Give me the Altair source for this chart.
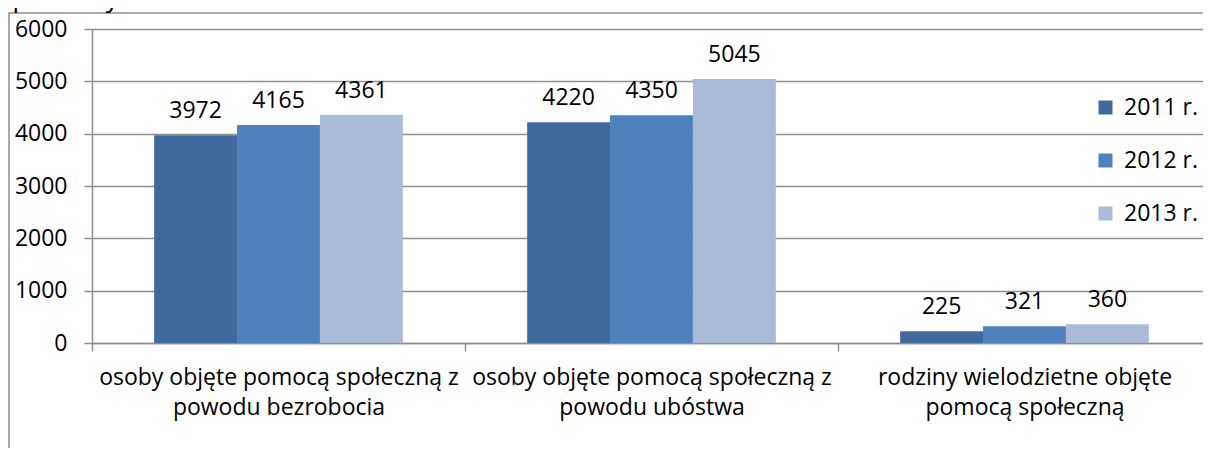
import altair as alt
import pandas as pd

# ---- data ----
categories = [
    "osoby objęte pomocą społeczną z\npowodu bezrobocia",
    "osoby objęte pomocą społeczną z\npowodu ubóstwa",
    "rodziny wielodzietne objęte\npomocą społeczną",
]
years = ["2011 r.", "2012 r.", "2013 r."]
v2011 = [3972, 4220, 225]
v2012 = [4165, 4350, 321]
v2013 = [4361, 5045, 360]
colors = ["#406a9c", "#4f81bd", "#aabad7"]
y_ticks = [0, 1000, 2000, 3000, 4000, 5000, 6000]
title_text = "społecznych w latach 2011-2013."

rows = []
for c, a, b, d in zip(categories, v2011, v2012, v2013):
    for yr, v in zip(years, (a, b, d)):
        rows.append({"cat": c, "year": yr, "value": v})
df = pd.DataFrame(rows)

FONT = "Open Sans"
FS = 23
GRAY = "#8e8e8e"
W, H = 1111, 314      # visible plot area (page is 1211 wide)
XR = 1119             # band layout continues to the page's right edge

x = alt.X(
    "cat:N", sort=categories, title=None,
    scale=alt.Scale(paddingInner=0, paddingOuter=0, range=[0, XR]),
    axis=alt.Axis(
        labelAngle=0, labelExpr="split(datum.label, '\\n')", tickBand="extent",
        labelFont=FONT, labelFontSize=FS, labelLineHeight=30, labelPadding=15,
        labelLimit=0, labelColor="black", tickSize=8, tickColor=GRAY,
        domainColor=GRAY, domainWidth=1.5, tickWidth=1.5, grid=False,
    ),
)
xo = alt.XOffset("year:N", sort=years,
                 scale=alt.Scale(paddingInner=0, paddingOuter=0.75))
y = alt.Y(
    "value:Q", title=None,
    scale=alt.Scale(domain=[0, 6000], nice=False),
    axis=alt.Axis(
        values=y_ticks, format="d", grid=True, gridColor=GRAY, gridWidth=1.5,
        labelFont=FONT, labelFontSize=FS, labelColor="black", labelPadding=17,
        tickSize=8, tickColor=GRAY, tickWidth=1.5, domainColor=GRAY, domainWidth=1.5,
    ),
)

bars = alt.Chart(df).mark_bar().encode(
    x=x, xOffset=xo, y=y,
    color=alt.Color(
        "year:N", sort=years,
        scale=alt.Scale(domain=years, range=colors),
        legend=alt.Legend(
            title=None, orient="none", legendX=1002, legendY=67, padding=0,
            symbolType="square", symbolSize=196, symbolStrokeWidth=0,
            labelFont=FONT, labelFontSize=FS, labelColor="black",
            rowPadding=29, labelOffset=7,
        ),
    ),
)

labels = alt.Chart(df).mark_text(
    dy=-17, baseline="alphabetic", font=FONT, fontSize=FS, color="black"
).encode(x=x, xOffset=xo, y=y, text=alt.Text("value:Q", format="d"))

frame_df = pd.DataFrame({"t": [title_text]})
frame = alt.Chart(frame_df).mark_rect(
    fill=None, stroke=GRAY, strokeWidth=1.5
).encode(
    x=alt.value(-83), x2=alt.value(W + 50),
    y=alt.value(-16), y2=alt.value(H + 200),
)
title = alt.Chart(frame_df).mark_text(
    align="left", baseline="alphabetic", font=FONT, fontSize=26, color="black"
).encode(x=alt.value(-92), y=alt.value(-22), text="t:N")

chart = alt.layer(frame, title, bars, labels).properties(
    width=W, height=H,
    autosize=alt.AutoSizeParams(type="none"),
    padding={"left": 84, "top": 21, "right": 0, "bottom": 105},
).configure_view(stroke=None).configure(background="white")

chart.save("out.html", embed_options={"renderer": "svg", "actions": False})
